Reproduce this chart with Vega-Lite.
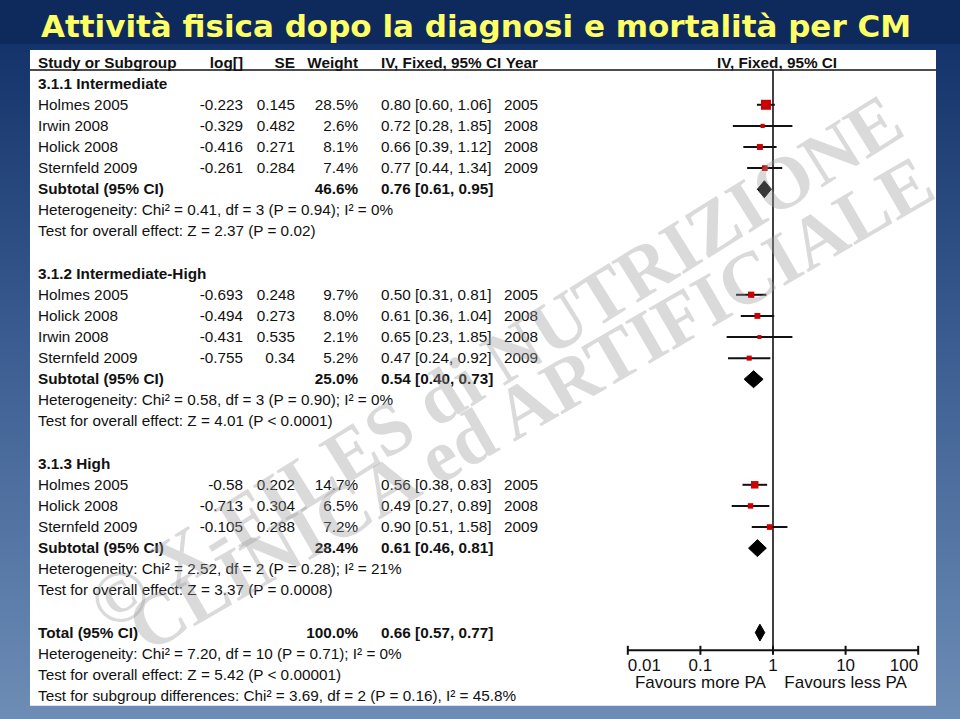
{
  "$schema": "https://vega.github.io/schema/vega-lite/v6.json",
  "width": 960,
  "height": 719,
  "autosize": {"type": "fit", "contains": "padding"},
  "padding": {"top": 12, "left": 0, "right": 0, "bottom": 0},
  "background": "#0e2a5c",
  "title": {"text": "Attività fisica dopo la diagnosi e mortalità per CM", "color": "#ffff66", "font": "DejaVu Sans", "fontSize": 31, "fontWeight": "bold", "anchor": "middle", "offset": 0, "dx": -4},
  "config": {"view": {"stroke": null}, "axis": {"disable": true}, "legend": {"disable": true}, "text": {"font": "Liberation Sans", "fontSize": 15.3, "color": "#111111"}},
  "datasets": {
    "table": [
      {"line": 0, "kind": "header", "label": "Study or Subgroup", "logrr": "log[]", "se": "SE", "weight": "Weight", "ci": "IV, Fixed, 95% CI", "year": "Year", "plotlabel": "IV, Fixed, 95% CI"},
      {"line": 1, "kind": "group", "label": "3.1.1 Intermediate"},
      {"line": 2, "kind": "study", "label": "Holmes 2005", "logrr": "-0.223", "se": "0.145", "weight": "28.5%", "ci": "0.80 [0.60, 1.06]", "year": "2005", "rr": 0.80, "lo": 0.60, "hi": 1.06, "w": 28.5},
      {"line": 3, "kind": "study", "label": "Irwin 2008", "logrr": "-0.329", "se": "0.482", "weight": "2.6%", "ci": "0.72 [0.28, 1.85]", "year": "2008", "rr": 0.72, "lo": 0.28, "hi": 1.85, "w": 2.6},
      {"line": 4, "kind": "study", "label": "Holick  2008", "logrr": "-0.416", "se": "0.271", "weight": "8.1%", "ci": "0.66 [0.39, 1.12]", "year": "2008", "rr": 0.66, "lo": 0.39, "hi": 1.12, "w": 8.1},
      {"line": 5, "kind": "study", "label": "Sternfeld 2009", "logrr": "-0.261", "se": "0.284", "weight": "7.4%", "ci": "0.77 [0.44, 1.34]", "year": "2009", "rr": 0.77, "lo": 0.44, "hi": 1.34, "w": 7.4},
      {"line": 6, "kind": "subtotal", "label": "Subtotal (95% CI)", "weight": "46.6%", "ci": "0.76 [0.61, 0.95]"},
      {"line": 7, "kind": "note", "label": "Heterogeneity: Chi² = 0.41, df = 3 (P = 0.94); I² = 0%"},
      {"line": 8, "kind": "note", "label": "Test for overall effect: Z = 2.37 (P = 0.02)"},
      {"line": 10, "kind": "group", "label": "3.1.2 Intermediate-High"},
      {"line": 11, "kind": "study", "label": "Holmes 2005", "logrr": "-0.693", "se": "0.248", "weight": "9.7%", "ci": "0.50 [0.31, 0.81]", "year": "2005", "rr": 0.50, "lo": 0.31, "hi": 0.81, "w": 9.7},
      {"line": 12, "kind": "study", "label": "Holick  2008", "logrr": "-0.494", "se": "0.273", "weight": "8.0%", "ci": "0.61 [0.36, 1.04]", "year": "2008", "rr": 0.61, "lo": 0.36, "hi": 1.04, "w": 8.0},
      {"line": 13, "kind": "study", "label": "Irwin 2008", "logrr": "-0.431", "se": "0.535", "weight": "2.1%", "ci": "0.65 [0.23, 1.85]", "year": "2008", "rr": 0.65, "lo": 0.23, "hi": 1.85, "w": 2.1},
      {"line": 14, "kind": "study", "label": "Sternfeld 2009", "logrr": "-0.755", "se": "0.34", "weight": "5.2%", "ci": "0.47 [0.24, 0.92]", "year": "2009", "rr": 0.47, "lo": 0.24, "hi": 0.92, "w": 5.2},
      {"line": 15, "kind": "subtotal", "label": "Subtotal (95% CI)", "weight": "25.0%", "ci": "0.54 [0.40, 0.73]"},
      {"line": 16, "kind": "note", "label": "Heterogeneity: Chi² = 0.58, df = 3 (P = 0.90); I² = 0%"},
      {"line": 17, "kind": "note", "label": "Test for overall effect: Z = 4.01 (P < 0.0001)"},
      {"line": 19, "kind": "group", "label": "3.1.3 High"},
      {"line": 20, "kind": "study", "label": "Holmes 2005", "logrr": "-0.58", "se": "0.202", "weight": "14.7%", "ci": "0.56 [0.38, 0.83]", "year": "2005", "rr": 0.56, "lo": 0.38, "hi": 0.83, "w": 14.7},
      {"line": 21, "kind": "study", "label": "Holick  2008", "logrr": "-0.713", "se": "0.304", "weight": "6.5%", "ci": "0.49 [0.27, 0.89]", "year": "2008", "rr": 0.49, "lo": 0.27, "hi": 0.89, "w": 6.5},
      {"line": 22, "kind": "study", "label": "Sternfeld 2009", "logrr": "-0.105", "se": "0.288", "weight": "7.2%", "ci": "0.90 [0.51, 1.58]", "year": "2009", "rr": 0.90, "lo": 0.51, "hi": 1.58, "w": 7.2},
      {"line": 23, "kind": "subtotal", "label": "Subtotal (95% CI)", "weight": "28.4%", "ci": "0.61 [0.46, 0.81]"},
      {"line": 24, "kind": "note", "label": "Heterogeneity: Chi² = 2.52, df = 2 (P = 0.28); I² = 21%"},
      {"line": 25, "kind": "note", "label": "Test for overall effect: Z = 3.37 (P = 0.0008)"},
      {"line": 27, "kind": "total", "label": "Total (95% CI)", "weight": "100.0%", "ci": "0.66 [0.57, 0.77]"},
      {"line": 28, "kind": "note", "label": "Heterogeneity: Chi² = 7.20, df = 10 (P = 0.71); I² = 0%"},
      {"line": 29, "kind": "note", "label": "Test for overall effect: Z = 5.42 (P < 0.00001)"},
      {"line": 30, "kind": "note", "label": "Test for subgroup differences: Chi² = 3.69, df = 2 (P = 0.16), I² = 45.8%"}
    ],
    "pooled": [
      {"group": "3.1.1", "k": 1, "rr": 0.61, "row": 6},
      {"group": "3.1.1", "k": 2, "rr": 0.76, "row": 5.6},
      {"group": "3.1.1", "k": 3, "rr": 0.95, "row": 6},
      {"group": "3.1.1", "k": 4, "rr": 0.76, "row": 6.4},
      {"group": "3.1.2", "k": 1, "rr": 0.40, "row": 15},
      {"group": "3.1.2", "k": 2, "rr": 0.54, "row": 14.6},
      {"group": "3.1.2", "k": 3, "rr": 0.73, "row": 15},
      {"group": "3.1.2", "k": 4, "rr": 0.54, "row": 15.4},
      {"group": "3.1.3", "k": 1, "rr": 0.46, "row": 23},
      {"group": "3.1.3", "k": 2, "rr": 0.61, "row": 22.6},
      {"group": "3.1.3", "k": 3, "rr": 0.81, "row": 23},
      {"group": "3.1.3", "k": 4, "rr": 0.61, "row": 23.4},
      {"group": "Total", "k": 1, "rr": 0.57, "row": 27},
      {"group": "Total", "k": 2, "rr": 0.66, "row": 26.6},
      {"group": "Total", "k": 3, "rr": 0.77, "row": 27},
      {"group": "Total", "k": 4, "rr": 0.66, "row": 27.4}
    ],
    "ticks": [{"tick": 0.01}, {"tick": 0.1}, {"tick": 1}, {"tick": 10}, {"tick": 100}],
    "favours": [{"label": "Favours more PA", "rr": 0.1}, {"label": "Favours less PA", "rr": 10}]
  },
  "layer": [
    {
      "data": {"values": [{"part": "slide"}]},
      "mark": {"type": "rect", "color": {"gradient": "linear", "x1": 0, "y1": 0, "x2": 0, "y2": 1, "stops": [{"offset": 0, "color": "#14336a"}, {"offset": 0.45, "color": "#3b5d91"}, {"offset": 1, "color": "#6d8db6"}]}},
      "encoding": {
        "x": {"datum": 2.252e-11, "type": "quantitative", "scale": {"type": "log", "domain": [2.252e-11, 376.5], "nice": false}},
        "x2": {"datum": 376.5},
        "y": {"datum": -0.879, "type": "quantitative", "scale": {"domain": [-0.879, 31.093], "reverse": true, "nice": false, "zero": false}},
        "y2": {"datum": 31.093}
      }
    },
    {
      "data": {"values": [{"part": "panel"}]},
      "mark": {"type": "rect", "color": "#ffffff"},
      "encoding": {
        "x": {"datum": 5.83e-11, "type": "quantitative", "scale": {"type": "log", "domain": [2.252e-11, 376.5], "nice": false}},
        "x2": {"datum": 175.9},
        "y": {"datum": -0.594, "type": "quantitative", "scale": {"domain": [-0.879, 31.093], "reverse": true, "nice": false, "zero": false}},
        "y2": {"datum": 30.47}
      }
    },
    {
      "data": {"values": [{"part": "header rule"}]},
      "mark": {"type": "rule", "color": "#111111", "strokeWidth": 1.6},
      "encoding": {
        "x": {"datum": 5.83e-11, "type": "quantitative", "scale": {"type": "log", "domain": [2.252e-11, 376.5], "nice": false}},
        "x2": {"datum": 175.9},
        "y": {"datum": 0.356, "type": "quantitative", "scale": {"domain": [-0.879, 31.093], "reverse": true, "nice": false, "zero": false}}
      }
    },
    {
      "data": {"values": [{"rr": 1}]},
      "mark": {"type": "rule", "color": "#111111", "strokeWidth": 1.6},
      "encoding": {
        "x": {"field": "rr", "type": "quantitative", "scale": {"type": "log", "domain": [2.252e-11, 376.5], "nice": false}},
        "y": {"datum": 0.356, "type": "quantitative", "scale": {"domain": [-0.879, 31.093], "reverse": true, "nice": false, "zero": false}},
        "y2": {"datum": 27.838}
      }
    },
    {
      "data": {"name": "table"},
      "transform": [{"filter": "datum.kind === 'study' || datum.kind === 'note'"}],
      "mark": {"type": "text", "align": "left", "baseline": "middle"},
      "encoding": {
        "x": {"datum": 7.52e-11, "type": "quantitative", "scale": {"type": "log", "domain": [2.252e-11, 376.5], "nice": false}},
        "y": {"field": "line", "type": "quantitative", "scale": {"domain": [-0.879, 31.093], "reverse": true, "nice": false, "zero": false}},
        "text": {"field": "label", "type": "nominal"}
      }
    },
    {
      "data": {"name": "table"},
      "transform": [{"filter": "datum.kind !== 'study' && datum.kind !== 'note'"}],
      "mark": {"type": "text", "align": "left", "baseline": "middle", "fontWeight": "bold"},
      "encoding": {
        "x": {"datum": 7.52e-11, "type": "quantitative", "scale": {"type": "log", "domain": [2.252e-11, 376.5], "nice": false}},
        "y": {"field": "line", "type": "quantitative", "scale": {"domain": [-0.879, 31.093], "reverse": true, "nice": false, "zero": false}},
        "text": {"field": "label", "type": "nominal"}
      }
    },
    {
      "data": {"name": "table"},
      "transform": [{"filter": "datum.kind === 'study'"}],
      "mark": {"type": "text", "align": "right", "baseline": "middle"},
      "encoding": {
        "x": {"datum": 5.01e-8, "type": "quantitative", "scale": {"type": "log", "domain": [2.252e-11, 376.5], "nice": false}},
        "y": {"field": "line", "type": "quantitative", "scale": {"domain": [-0.879, 31.093], "reverse": true, "nice": false, "zero": false}},
        "text": {"field": "logrr", "type": "nominal"}
      }
    },
    {
      "data": {"name": "table"},
      "transform": [{"filter": "datum.kind === 'study'"}],
      "mark": {"type": "text", "align": "right", "baseline": "middle"},
      "encoding": {
        "x": {"datum": 2.606e-7, "type": "quantitative", "scale": {"type": "log", "domain": [2.252e-11, 376.5], "nice": false}},
        "y": {"field": "line", "type": "quantitative", "scale": {"domain": [-0.879, 31.093], "reverse": true, "nice": false, "zero": false}},
        "text": {"field": "se", "type": "nominal"}
      }
    },
    {
      "data": {"name": "table"},
      "transform": [{"filter": "datum.kind === 'study'"}],
      "mark": {"type": "text", "align": "right", "baseline": "middle"},
      "encoding": {
        "x": {"datum": 1.923e-6, "type": "quantitative", "scale": {"type": "log", "domain": [2.252e-11, 376.5], "nice": false}},
        "y": {"field": "line", "type": "quantitative", "scale": {"domain": [-0.879, 31.093], "reverse": true, "nice": false, "zero": false}},
        "text": {"field": "weight", "type": "nominal"}
      }
    },
    {
      "data": {"name": "table"},
      "transform": [{"filter": "datum.kind === 'study'"}],
      "mark": {"type": "text", "align": "left", "baseline": "middle"},
      "encoding": {
        "x": {"datum": 3.988e-6, "type": "quantitative", "scale": {"type": "log", "domain": [2.252e-11, 376.5], "nice": false}},
        "y": {"field": "line", "type": "quantitative", "scale": {"domain": [-0.879, 31.093], "reverse": true, "nice": false, "zero": false}},
        "text": {"field": "ci", "type": "nominal"}
      }
    },
    {
      "data": {"name": "table"},
      "transform": [{"filter": "datum.kind === 'study'"}],
      "mark": {"type": "text", "align": "right", "baseline": "middle"},
      "encoding": {
        "x": {"datum": 5.794e-4, "type": "quantitative", "scale": {"type": "log", "domain": [2.252e-11, 376.5], "nice": false}},
        "y": {"field": "line", "type": "quantitative", "scale": {"domain": [-0.879, 31.093], "reverse": true, "nice": false, "zero": false}},
        "text": {"field": "year", "type": "nominal"}
      }
    },
    {
      "data": {"name": "table"},
      "transform": [{"filter": "datum.kind === 'header'"}],
      "mark": {"type": "text", "align": "right", "baseline": "middle", "fontWeight": "bold"},
      "encoding": {
        "x": {"datum": 5.01e-8, "type": "quantitative", "scale": {"type": "log", "domain": [2.252e-11, 376.5], "nice": false}},
        "y": {"field": "line", "type": "quantitative", "scale": {"domain": [-0.879, 31.093], "reverse": true, "nice": false, "zero": false}},
        "text": {"field": "logrr", "type": "nominal"}
      }
    },
    {
      "data": {"name": "table"},
      "transform": [{"filter": "datum.kind === 'header'"}],
      "mark": {"type": "text", "align": "right", "baseline": "middle", "fontWeight": "bold"},
      "encoding": {
        "x": {"datum": 2.606e-7, "type": "quantitative", "scale": {"type": "log", "domain": [2.252e-11, 376.5], "nice": false}},
        "y": {"field": "line", "type": "quantitative", "scale": {"domain": [-0.879, 31.093], "reverse": true, "nice": false, "zero": false}},
        "text": {"field": "se", "type": "nominal"}
      }
    },
    {
      "data": {"name": "table"},
      "transform": [{"filter": "datum.kind !== 'study' && isValid(datum.weight)"}],
      "mark": {"type": "text", "align": "right", "baseline": "middle", "fontWeight": "bold"},
      "encoding": {
        "x": {"datum": 1.923e-6, "type": "quantitative", "scale": {"type": "log", "domain": [2.252e-11, 376.5], "nice": false}},
        "y": {"field": "line", "type": "quantitative", "scale": {"domain": [-0.879, 31.093], "reverse": true, "nice": false, "zero": false}},
        "text": {"field": "weight", "type": "nominal"}
      }
    },
    {
      "data": {"name": "table"},
      "transform": [{"filter": "datum.kind !== 'study' && isValid(datum.ci)"}],
      "mark": {"type": "text", "align": "left", "baseline": "middle", "fontWeight": "bold"},
      "encoding": {
        "x": {"datum": 3.988e-6, "type": "quantitative", "scale": {"type": "log", "domain": [2.252e-11, 376.5], "nice": false}},
        "y": {"field": "line", "type": "quantitative", "scale": {"domain": [-0.879, 31.093], "reverse": true, "nice": false, "zero": false}},
        "text": {"field": "ci", "type": "nominal"}
      }
    },
    {
      "data": {"name": "table"},
      "transform": [{"filter": "datum.kind === 'header'"}],
      "mark": {"type": "text", "align": "right", "baseline": "middle", "fontWeight": "bold"},
      "encoding": {
        "x": {"datum": 5.794e-4, "type": "quantitative", "scale": {"type": "log", "domain": [2.252e-11, 376.5], "nice": false}},
        "y": {"field": "line", "type": "quantitative", "scale": {"domain": [-0.879, 31.093], "reverse": true, "nice": false, "zero": false}},
        "text": {"field": "year", "type": "nominal"}
      }
    },
    {
      "data": {"name": "table"},
      "transform": [{"filter": "datum.kind === 'header'"}],
      "mark": {"type": "text", "align": "center", "baseline": "middle", "fontWeight": "bold"},
      "encoding": {
        "x": {"datum": 1.135, "type": "quantitative", "scale": {"type": "log", "domain": [2.252e-11, 376.5], "nice": false}},
        "y": {"field": "line", "type": "quantitative", "scale": {"domain": [-0.879, 31.093], "reverse": true, "nice": false, "zero": false}},
        "text": {"field": "plotlabel", "type": "nominal"}
      }
    },
    {
      "data": {"name": "table"},
      "transform": [{"filter": "datum.kind === 'study'"}],
      "mark": {"type": "rule", "color": "#111111", "strokeWidth": 2},
      "encoding": {
        "x": {"field": "lo", "type": "quantitative", "scale": {"type": "log", "domain": [2.252e-11, 376.5], "nice": false}},
        "x2": {"field": "hi"},
        "y": {"field": "line", "type": "quantitative", "scale": {"domain": [-0.879, 31.093], "reverse": true, "nice": false, "zero": false}}
      }
    },
    {
      "data": {"name": "table"},
      "transform": [{"filter": "datum.kind === 'study'"}],
      "mark": {"type": "square", "color": "#cc0000", "opacity": 1, "filled": true},
      "encoding": {
        "x": {"field": "rr", "type": "quantitative", "scale": {"type": "log", "domain": [2.252e-11, 376.5], "nice": false}},
        "y": {"field": "line", "type": "quantitative", "scale": {"domain": [-0.879, 31.093], "reverse": true, "nice": false, "zero": false}},
        "size": {"field": "w", "type": "quantitative", "scale": {"domain": [0, 28.5], "range": [9, 100]}, "legend": null}
      }
    },
    {
      "data": {"name": "pooled"},
      "mark": {"type": "line", "interpolate": "linear-closed", "fill": "#000000", "stroke": "#000000", "strokeWidth": 1},
      "encoding": {
        "x": {"field": "rr", "type": "quantitative", "scale": {"type": "log", "domain": [2.252e-11, 376.5], "nice": false}},
        "y": {"field": "row", "type": "quantitative", "scale": {"domain": [-0.879, 31.093], "reverse": true, "nice": false, "zero": false}},
        "order": {"field": "k", "type": "quantitative"},
        "detail": {"field": "group", "type": "nominal"}
      }
    },
    {
      "data": {"values": [{"from": 0.01, "to": 100}]},
      "mark": {"type": "rule", "color": "#111111", "strokeWidth": 2},
      "encoding": {
        "x": {"field": "from", "type": "quantitative", "scale": {"type": "log", "domain": [2.252e-11, 376.5], "nice": false}},
        "x2": {"field": "to"},
        "y": {"datum": 27.838, "type": "quantitative", "scale": {"domain": [-0.879, 31.093], "reverse": true, "nice": false, "zero": false}}
      }
    },
    {
      "data": {"name": "ticks"},
      "mark": {"type": "rule", "color": "#111111", "strokeWidth": 2},
      "encoding": {
        "x": {"field": "tick", "type": "quantitative", "scale": {"type": "log", "domain": [2.252e-11, 376.5], "nice": false}},
        "y": {"datum": 27.625, "type": "quantitative", "scale": {"domain": [-0.879, 31.093], "reverse": true, "nice": false, "zero": false}},
        "y2": {"datum": 28.052}
      }
    },
    {
      "data": {"name": "ticks"},
      "transform": [{"filter": "datum.tick > 0.05 && datum.tick < 50"}],
      "mark": {"type": "text", "align": "center", "baseline": "middle", "fontSize": 17},
      "encoding": {
        "x": {"field": "tick", "type": "quantitative", "scale": {"type": "log", "domain": [2.252e-11, 376.5], "nice": false}},
        "y": {"datum": 28.575, "type": "quantitative", "scale": {"domain": [-0.879, 31.093], "reverse": true, "nice": false, "zero": false}},
        "text": {"field": "tick", "type": "quantitative", "format": "~g"}
      }
    },
    {
      "data": {"name": "ticks"},
      "transform": [{"filter": "datum.tick < 0.05"}],
      "mark": {"type": "text", "align": "left", "baseline": "middle", "fontSize": 17},
      "encoding": {
        "x": {"field": "tick", "type": "quantitative", "scale": {"type": "log", "domain": [2.252e-11, 376.5], "nice": false}},
        "y": {"datum": 28.575, "type": "quantitative", "scale": {"domain": [-0.879, 31.093], "reverse": true, "nice": false, "zero": false}},
        "text": {"field": "tick", "type": "quantitative", "format": "~g"}
      }
    },
    {
      "data": {"name": "ticks"},
      "transform": [{"filter": "datum.tick > 50"}],
      "mark": {"type": "text", "align": "right", "baseline": "middle", "fontSize": 17},
      "encoding": {
        "x": {"field": "tick", "type": "quantitative", "scale": {"type": "log", "domain": [2.252e-11, 376.5], "nice": false}},
        "y": {"datum": 28.575, "type": "quantitative", "scale": {"domain": [-0.879, 31.093], "reverse": true, "nice": false, "zero": false}},
        "text": {"field": "tick", "type": "quantitative", "format": "~g"}
      }
    },
    {
      "data": {"name": "favours"},
      "mark": {"type": "text", "align": "center", "baseline": "middle", "fontSize": 17},
      "encoding": {
        "x": {"field": "rr", "type": "quantitative", "scale": {"type": "log", "domain": [2.252e-11, 376.5], "nice": false}},
        "y": {"datum": 29.382, "type": "quantitative", "scale": {"domain": [-0.879, 31.093], "reverse": true, "nice": false, "zero": false}},
        "text": {"field": "label", "type": "nominal"}
      }
    },
    {
      "data": {"values": [{"mark": "© X-FILES di NUTRIZIONE"}]},
      "mark": {"type": "text", "align": "center", "baseline": "middle", "font": "Liberation Serif", "fontWeight": "bold", "fontSize": 74, "angle": -32, "color": "#9a9a9a", "opacity": 0.36},
      "encoding": {
        "x": {"datum": 1.579e-4, "type": "quantitative", "scale": {"type": "log", "domain": [2.252e-11, 376.5], "nice": false}},
        "y": {"datum": 14.3, "type": "quantitative", "scale": {"domain": [-0.879, 31.093], "reverse": true, "nice": false, "zero": false}},
        "text": {"field": "mark", "type": "nominal"}
      }
    },
    {
      "data": {"values": [{"mark": "CLINICA ed ARTIFICIALE"}]},
      "mark": {"type": "text", "align": "center", "baseline": "middle", "font": "Liberation Serif", "fontWeight": "bold", "fontSize": 74, "angle": -30, "color": "#9a9a9a", "opacity": 0.36},
      "encoding": {
        "x": {"datum": 4.79e-4, "type": "quantitative", "scale": {"type": "log", "domain": [2.252e-11, 376.5], "nice": false}},
        "y": {"datum": 16.27, "type": "quantitative", "scale": {"domain": [-0.879, 31.093], "reverse": true, "nice": false, "zero": false}},
        "text": {"field": "mark", "type": "nominal"}
      }
    }
  ]
}
